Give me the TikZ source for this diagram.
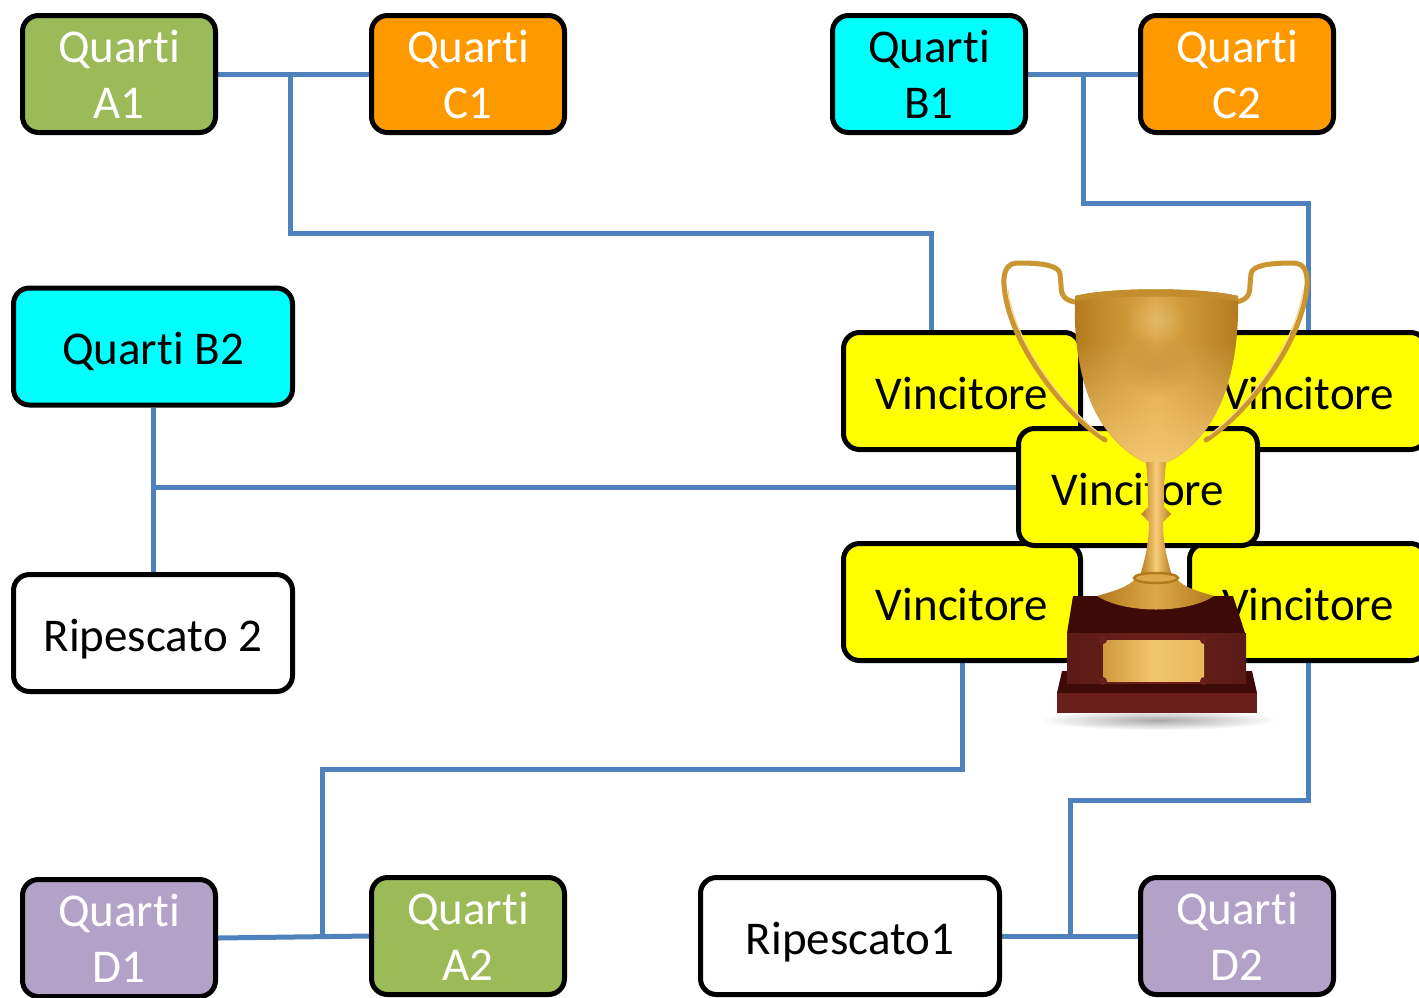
\documentclass[tikz,border=0pt]{standalone}
\usepackage{fontspec}
\setmainfont{Carlito}[Ligatures={NoCommon,NoContextual}]
\usetikzlibrary{fadings}
\definecolor{qgreen}{HTML}{9BBB59}
\definecolor{qorange}{HTML}{FF9900}
\definecolor{qcyan}{HTML}{00FFFF}
\definecolor{qpurple}{HTML}{B3A2C7}
\definecolor{qyellow}{HTML}{FFFF00}
\definecolor{qline}{HTML}{4F81BD}
\definecolor{goldA}{HTML}{B27A1C}
\definecolor{goldB}{HTML}{DDA848}
\definecolor{goldC}{HTML}{F8CC78}
\definecolor{goldH}{HTML}{C9962F}
\definecolor{maroonD}{HTML}{3E0A08}
\definecolor{maroonF}{HTML}{6B1F1A}
\definecolor{plaqueA}{HTML}{D09A3C}
\definecolor{plaqueB}{HTML}{F2C66E}
\definecolor{plaqueC}{HTML}{E8B85C}
\tikzfading[name=fadeup, top color=transparent!100, bottom color=transparent!15]
\tikzfading[name=fuzzyell, inner color=transparent!10, outer color=transparent!100]
\pgfdeclarelayer{bglayer}
\pgfdeclarelayer{linelayer}
\pgfsetlayers{bglayer,linelayer,main}
\newcommand{\qt}{Quart\kern0pt i}
\tikzset{
  box/.style={draw=black, line width=5pt, rounded corners=16pt, minimum height=117pt,
    inner sep=0pt, align=center, font=\fontsize{47}{56}\selectfont},
  qbox/.style={box, minimum width=193pt},
  wbox/.style={box, minimum width=279pt},
  vbox/.style={box, minimum width=237pt, fill=qyellow},
  onel/.style={text depth=0pt, text height=36pt},
  conn/.style={draw=qline, line width=5pt}
}
\begin{document}
\begin{tikzpicture}[x=1pt, y=-1pt]
\useasboundingbox (0,0) rectangle (1419,997);
\begin{pgfonlayer}{bglayer}
\fill[white] (0,0) rectangle (1419,997);
\end{pgfonlayer}

% nodes
\node[qbox, fill=qgreen, text=white] (A1) at (119,74) {\qt\\A1};
\node[qbox, fill=qorange, text=white] (C1) at (468,74) {\qt\\C1};
\node[qbox, fill=qcyan, text=black] (B1) at (929,74) {\qt\\B1};
\node[qbox, fill=qorange, text=white] (C2) at (1237,74) {\qt\\C2};
\node[wbox, fill=qcyan, onel] (B2) at (153,346.5) {\qt{} B2};
\node[wbox, fill=white, onel] (R2) at (153,633) {Ripescato 2};
\node[qbox, fill=qpurple, text=white] (D1) at (119,938) {\qt\\D1};
\node[qbox, fill=qgreen, text=white] (A2) at (468,936) {\qt\\A2};
\node[box, minimum width=299pt, fill=white, onel] (R1) at (850,936) {Ripescato1};
\node[qbox, fill=qpurple, text=white] (D2) at (1237,936) {\qt\\D2};

% Vincitore boxes
\node[vbox, onel] (VTL) at (962,391) {Vincitore};
\node[vbox, onel] (VTR) at (1308,391) {Vincitore};
\node[vbox, onel] (VBL) at (962,602) {Vincitore};
\node[vbox, onel] (VBR) at (1308,602) {Vincitore};
\node[vbox, onel, minimum width=239pt] (VM) at (1138,487) {Vincitore};

% connectors
\coordinate (j1) at (290,74);
\coordinate (k1) at (931,233);
\coordinate (j2) at (1083,74);
\coordinate (k2) at (1308,203);
\coordinate (j3) at (153,487);
\coordinate (k3) at (322,769);
\coordinate (j4) at (322,936);
\coordinate (k4) at (1070,800);
\coordinate (j5) at (1070,936);
\begin{pgfonlayer}{linelayer}
\draw[conn] (A1.east) -- (C1.west);
\draw[conn] (j1) |- (k1) -- (k1 |- VTL.north);
\draw[conn] (B1.east) -- (C2.west);
\draw[conn] (j2) |- (k2) -- (VTR.north);
\draw[conn] (B2.south) -- (R2.north);
\draw[conn] (j3) -- (VM.west);
\draw[conn] (D1.east) -- (A2.west);
\draw[conn] (VBL.south) |- (k3) -- (j4);
\draw[conn] (R1.east) -- (D2.west);
\draw[conn] (VBR.south) |- (k4) -- (j5);
\end{pgfonlayer}

% trophy
\fill[gray!75, path fading=fuzzyell] (1158,720) ellipse (118 and 10);
% handles
\draw[goldH, line width=5pt, line cap=round] (1075,302) .. controls (1064,300) and (1061,295) .. (1061,285) -- (1060,274) .. controls (1059,266) and (1045,263) .. (1018,263) .. controls (1008,263) and (1003,270) .. (1004,285) .. controls (1008,340) and (1060,410) .. (1105,440);
\draw[goldH, line width=5pt, line cap=round] (1236,302) .. controls (1247,300) and (1250,295) .. (1250,285) -- (1251,274) .. controls (1252,266) and (1266,263) .. (1293,263) .. controls (1303,263) and (1308,270) .. (1307,285) .. controls (1303,340) and (1251,410) .. (1206,440);
\draw[goldC!80!white, line width=1.2pt, line cap=round] (1008,290) .. controls (1014,340) and (1060,405) .. (1103,436);
\draw[goldC!80!white, line width=1.2pt, line cap=round] (1303,290) .. controls (1297,340) and (1251,405) .. (1208,436);
% cup
\shade[left color=goldA, right color=goldA, middle color=goldB] (1075,296) .. controls (1110,287) and (1200,287) .. (1238,296) .. controls (1240,380) and (1215,440) .. (1166,463) -- (1146,463) .. controls (1097,440) and (1072,380) .. (1075,296) -- cycle;
\fill[goldC, path fading=fadeup] (1078,340) .. controls (1080,390) and (1100,440) .. (1146,463) -- (1166,463) .. controls (1212,440) and (1234,390) .. (1236,340) -- cycle;
\fill[goldA!70!black, opacity=0.25, path fading=fuzzyell] (1156,365) ellipse (35 and 32);
\fill[goldB!60!white, opacity=0.5, path fading=fuzzyell] (1156,320) ellipse (30 and 25);
\fill[goldA!60!goldB] (1075,296) .. controls (1110,287) and (1200,287) .. (1238,296) -- (1238,301) .. controls (1200,295) and (1110,295) .. (1075,301) -- cycle;
% stem
\shade[left color=goldA, right color=goldA, middle color=goldC] (1146,462) .. controls (1148,485) .. (1148,507) -- (1141,514) -- (1149,522) .. controls (1149,545) and (1144,562) .. (1140,576) -- (1172,576) .. controls (1168,562) and (1163,545) .. (1163,522) -- (1171,514) -- (1164,507) .. controls (1164,485) .. (1166,462) -- cycle;
% base
\fill[maroonD] (1073,596) -- (1233,596) -- (1245,633) -- (1067,633) -- cycle;
\fill[maroonD] (1062,671) -- (1252,671) -- (1257,693) -- (1057,693) -- cycle;
\fill[maroonF] (1057,693) rectangle (1257,713);
\shade[left color=maroonF!85!black, right color=maroonF!85!black, middle color=maroonF] (1067,633) rectangle (1246,683);
\shade[left color=plaqueA, right color=plaqueC, middle color=plaqueB] (1103,640) rectangle (1204,681);
\fill[maroonF] (1103,640) circle (4) (1204,640) circle (4) (1103,681) circle (4) (1204,681) circle (4);
% foot
\shade[left color=goldA, right color=goldA, middle color=goldB] (1136,578) .. controls (1128,588) and (1110,592) .. (1097,596) .. controls (1125,614) and (1187,614) .. (1214,596) .. controls (1201,592) and (1183,588) .. (1176,578) -- cycle;
\draw[goldA, line width=2.5pt, fill=goldB] (1156,578) ellipse (22 and 5);
\end{tikzpicture}
\end{document}
